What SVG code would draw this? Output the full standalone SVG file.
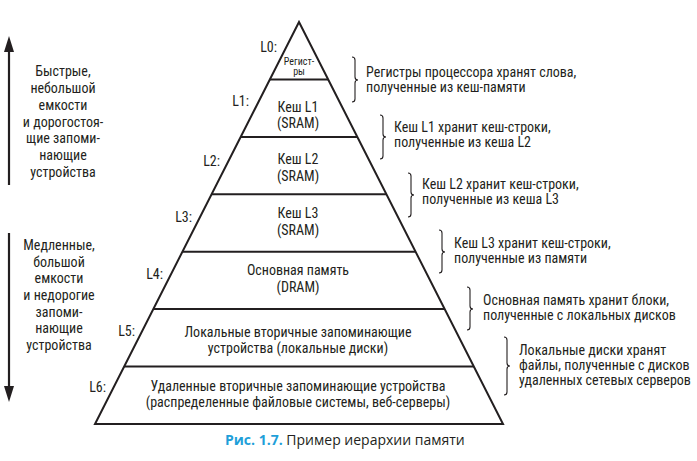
<svg xmlns="http://www.w3.org/2000/svg" width="697" height="461" viewBox="0 0 697 461">
<style>
  text { font-family: "Liberation Sans Narrow", "Roboto Condensed", "Liberation Sans", sans-serif; fill: #231f20; font-size: 14px; }
  .c { text-anchor: middle; }
  .e { text-anchor: end; }
  .sm { font-size: 10px; }
  .edge { stroke: #231f20; stroke-width: 2; fill: none; }
  .brace { stroke: #231f20; stroke-width: 1.1; fill: none; }
  .cap { font-family: "Open Sans", "Liberation Sans", sans-serif; font-size: 14px; }
  .capb { fill: #1f9fd9; font-weight: bold; }
</style>

<g id="connectors">
  <line class="edge" x1="9" y1="185" x2="9" y2="50" style="stroke-width:2.2"/>
  <path d="M4,52 L9,36 L14,52 Z" fill="#231f20"/>
  <line class="edge" x1="9" y1="233" x2="9" y2="388" style="stroke-width:2.2"/>
  <path d="M4,386 L9,402 L14,386 Z" fill="#231f20"/>
</g>

<g id="pyramid">
  <polygon class="edge" points="299,22 503,424 95,424"/>
  <line class="edge" x1="269.9" y1="79.4" x2="328.1" y2="79.4"/>
  <line class="edge" x1="240.7" y1="136.9" x2="357.3" y2="136.9"/>
  <line class="edge" x1="211.6" y1="194.3" x2="386.4" y2="194.3"/>
  <line class="edge" x1="182.4" y1="251.7" x2="415.6" y2="251.7"/>
  <line class="edge" x1="153.3" y1="309.1" x2="444.7" y2="309.1"/>
  <line class="edge" x1="124.1" y1="366.6" x2="473.9" y2="366.6"/>
</g>

<g id="L0">
  <text class="e" x="277" y="52">L0:</text>
  <text class="c sm" x="299" y="65">Регист-</text>
  <text class="c sm" x="299" y="75">ры</text>
  <path class="brace" d="M352,57 Q355,57 355,60 L355,77 Q355,80 358,80 Q355,80 355,83 L355,99 Q355,102 352,102"/>
  <text x="366" y="77">Регистры процессора хранят слова,</text>
  <text x="366" y="92">полученные из кеш-памяти</text>
</g>

<g id="L1">
  <text class="e" x="249" y="106">L1:</text>
  <text class="c" x="298" y="112">Кеш L1</text>
  <text class="c" x="298" y="128">(SRAM)</text>
  <path class="brace" d="M380,115 Q383,115 383,118 L383,134 Q383,137 386,137 Q383,137 383,140 L383,156 Q383,159 380,159"/>
  <text x="394" y="132">Кеш L1 хранит кеш-строки,</text>
  <text x="394" y="147">полученные из кеша L2</text>
</g>

<g id="L2">
  <text class="e" x="220" y="166">L2:</text>
  <text class="c" x="298" y="164">Кеш L2</text>
  <text class="c" x="298" y="181">(SRAM)</text>
  <path class="brace" d="M408,173 Q411,173 411,176 L411,192 Q411,195 414,195 Q411,195 411,198 L411,214 Q411,217 408,217"/>
  <text x="422" y="189">Кеш L2 хранит кеш-строки,</text>
  <text x="422" y="204">полученные из кеша L3</text>
</g>

<g id="L3">
  <text class="e" x="192" y="222">L3:</text>
  <text class="c" x="298" y="218">Кеш L3</text>
  <text class="c" x="298" y="235">(SRAM)</text>
  <path class="brace" d="M439,230 Q442,230 442,233 L442,249 Q442,252 445,252 Q442,252 442,255 L442,270 Q442,273 439,273"/>
  <text x="454" y="248">Кеш L3 хранит кеш-строки,</text>
  <text x="454" y="263">полученные из памяти</text>
</g>

<g id="L4">
  <text class="e" x="163" y="279">L4:</text>
  <text class="c" x="298" y="275">Основная память</text>
  <text class="c" x="298" y="292">(DRAM)</text>
  <path class="brace" d="M467,287 Q470,287 470,290 L470,306 Q470,309 473,309 Q470,309 470,312 L470,327 Q470,330 467,330"/>
  <text x="483" y="305">Основная память хранит блоки,</text>
  <text x="483" y="320">полученные с локальных дисков</text>
</g>

<g id="L5">
  <text class="e" x="135" y="336">L5:</text>
  <text class="c" x="298" y="337">Локальные вторичные запоминающие</text>
  <text class="c" x="298" y="353">устройства (локальные диски)</text>
  <path class="brace" d="M504,337 Q507,337 507,340 L507,363 Q507,366 510,366 Q507,366 507,369 L507,392 Q507,395 504,395"/>
  <text x="519" y="355">Локальные диски хранят</text>
  <text x="519" y="370">файлы, полученные с дисков</text>
  <text x="519" y="385">удаленных сетевых серверов</text>
</g>

<g id="L6">
  <text class="e" x="106" y="392">L6:</text>
  <text class="c" x="298" y="391">Удаленные вторичные запоминающие устройства</text>
  <text class="c" x="298" y="407">(распределенные файловые системы, веб-серверы)</text>
</g>

<g id="fast">
  <text class="c" x="63" y="76">Быстрые,</text>
  <text class="c" x="63" y="93">небольшой</text>
  <text class="c" x="63" y="110">емкости</text>
  <text class="c" x="63" y="127">и дорогостоя-</text>
  <text class="c" x="63" y="143">щие запоми-</text>
  <text class="c" x="63" y="160">нающие</text>
  <text class="c" x="63" y="177">устройства</text>
</g>

<g id="slow">
  <text class="c" x="59" y="250">Медленные,</text>
  <text class="c" x="59" y="267">большой</text>
  <text class="c" x="59" y="283">емкости</text>
  <text class="c" x="59" y="300">и недорогие</text>
  <text class="c" x="59" y="317">запоми-</text>
  <text class="c" x="59" y="333">нающие</text>
  <text class="c" x="59" y="350">устройства</text>
</g>

<g id="caption">
  <text class="cap" x="225" y="445"><tspan class="capb">Рис. 1.7.</tspan> Пример иерархии памяти</text>
</g>
</svg>
